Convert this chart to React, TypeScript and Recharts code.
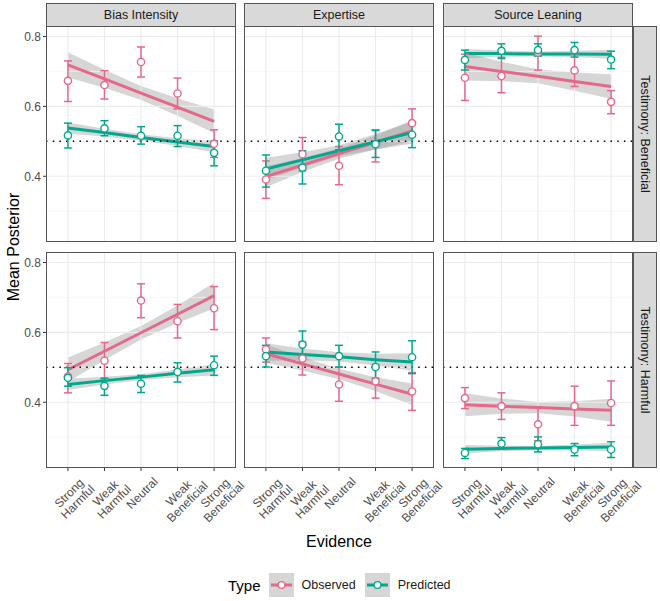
import React from 'react';
import { ComposedChart, Line, Area, XAxis, YAxis, ReferenceLine, ErrorBar } from 'recharts';

const PINK = '#E5688A';
const TEAL = '#00A98E';
const FONT = '"Liberation Sans", Arial, sans-serif';

const EVIDENCE = [
  ['Strong', 'Harmful'],
  ['Weak', 'Harmful'],
  ['Neutral'],
  ['Weak', 'Beneficial'],
  ['Strong', 'Beneficial'],
];
const FACET_COLS = ['Bias Intensity', 'Expertise', 'Source Leaning'];
const FACET_ROWS = ['Testimony: Beneficial', 'Testimony: Harmful'];
const Y_TICKS = [0.4, 0.6, 0.8];
const Y_MINOR = [0.3, 0.5, 0.7];

// points: [mean, lower, upper]; fits: [fit, ci lower, ci upper]
const biasBenObs = [[0.673, 0.614, 0.730], [0.661, 0.621, 0.702], [0.727, 0.684, 0.770], [0.637, 0.593, 0.681], [0.493, 0.454, 0.533]];
const biasBenPred = [[0.517, 0.481, 0.552], [0.537, 0.516, 0.559], [0.516, 0.492, 0.542], [0.516, 0.485, 0.545], [0.467, 0.430, 0.501]];
const biasBenObsFit = [[0.719, 0.683, 0.755], [0.679, 0.653, 0.705], [0.638, 0.618, 0.658], [0.598, 0.573, 0.623], [0.557, 0.523, 0.591]];
const biasBenPredFit = [[0.538, 0.522, 0.554], [0.525, 0.514, 0.536], [0.511, 0.502, 0.520], [0.498, 0.487, 0.509], [0.485, 0.469, 0.501]];

const expBenObs = [[0.391, 0.337, 0.444], [0.463, 0.415, 0.511], [0.430, 0.376, 0.485], [0.493, 0.441, 0.533], [0.552, 0.514, 0.593]];
const expBenPred = [[0.416, 0.369, 0.461], [0.425, 0.378, 0.473], [0.514, 0.476, 0.549], [0.492, 0.454, 0.531], [0.519, 0.482, 0.556]];
const expBenObsFit = [[0.399, 0.369, 0.429], [0.432, 0.412, 0.452], [0.465, 0.450, 0.480], [0.497, 0.477, 0.517], [0.530, 0.500, 0.560]];
const expBenPredFit = [[0.421, 0.389, 0.453], [0.447, 0.425, 0.469], [0.473, 0.457, 0.489], [0.499, 0.477, 0.521], [0.525, 0.493, 0.557]];

const srcBenObs = [[0.682, 0.617, 0.749], [0.687, 0.639, 0.740], [0.754, 0.704, 0.801], [0.703, 0.657, 0.750], [0.613, 0.579, 0.645]];
const srcBenPred = [[0.733, 0.704, 0.761], [0.759, 0.737, 0.779], [0.761, 0.744, 0.779], [0.761, 0.741, 0.783], [0.734, 0.708, 0.758]];
const srcBenObsFit = [[0.714, 0.674, 0.754], [0.700, 0.672, 0.728], [0.686, 0.666, 0.706], [0.671, 0.645, 0.697], [0.657, 0.622, 0.692]];
const srcBenPredFit = [[0.751, 0.738, 0.764], [0.751, 0.742, 0.760], [0.750, 0.743, 0.757], [0.750, 0.741, 0.759], [0.749, 0.736, 0.762]];

const biasHarmObs = [[0.474, 0.427, 0.511], [0.519, 0.466, 0.571], [0.691, 0.642, 0.739], [0.632, 0.584, 0.680], [0.669, 0.608, 0.731]];
const biasHarmPred = [[0.470, 0.446, 0.499], [0.447, 0.420, 0.469], [0.453, 0.428, 0.477], [0.487, 0.458, 0.513], [0.506, 0.477, 0.532]];
const biasHarmObsFit = [[0.493, 0.458, 0.528], [0.546, 0.521, 0.571], [0.599, 0.580, 0.618], [0.652, 0.627, 0.677], [0.705, 0.668, 0.742]];
const biasHarmPredFit = [[0.451, 0.435, 0.467], [0.462, 0.451, 0.473], [0.472, 0.464, 0.480], [0.483, 0.472, 0.494], [0.493, 0.477, 0.509]];

const expHarmObs = [[0.551, 0.515, 0.584], [0.525, 0.478, 0.572], [0.451, 0.403, 0.500], [0.460, 0.412, 0.508], [0.431, 0.377, 0.485]];
const expHarmPred = [[0.532, 0.501, 0.563], [0.565, 0.527, 0.604], [0.532, 0.501, 0.563], [0.501, 0.469, 0.544], [0.529, 0.482, 0.576]];
const expHarmObsFit = [[0.539, 0.513, 0.565], [0.510, 0.491, 0.529], [0.481, 0.466, 0.496], [0.452, 0.432, 0.472], [0.423, 0.392, 0.454]];
const expHarmPredFit = [[0.544, 0.519, 0.569], [0.537, 0.520, 0.554], [0.530, 0.517, 0.543], [0.522, 0.505, 0.539], [0.515, 0.490, 0.540]];

const srcHarmObs = [[0.412, 0.382, 0.442], [0.389, 0.351, 0.427], [0.337, 0.290, 0.387], [0.389, 0.334, 0.446], [0.398, 0.334, 0.461]];
const srcHarmPred = [[0.255, 0.239, 0.268], [0.282, 0.268, 0.299], [0.280, 0.258, 0.301], [0.265, 0.247, 0.282], [0.265, 0.242, 0.287]];
const srcHarmObsFit = [[0.393, 0.360, 0.426], [0.389, 0.367, 0.411], [0.385, 0.369, 0.401], [0.381, 0.359, 0.403], [0.377, 0.344, 0.410]];
const srcHarmPredFit = [[0.266, 0.254, 0.278], [0.268, 0.260, 0.276], [0.269, 0.263, 0.275], [0.271, 0.263, 0.279], [0.272, 0.260, 0.284]];

const buildRows = (obs: number[][], pred: number[][], obsFit: number[][], predFit: number[][]) =>
  obs.map((o, i) => ({
    x: i + 1,
    obs: o[0],
    obsErr: [o[0] - o[1], o[2] - o[0]],
    pred: pred[i][0],
    predErr: [pred[i][0] - pred[i][1], pred[i][2] - pred[i][0]],
    obsFit: obsFit[i][0],
    obsBand: [obsFit[i][1], obsFit[i][2]],
    predFit: predFit[i][0],
    predBand: [predFit[i][1], predFit[i][2]],
  }));

const PANELS = [
  [buildRows(biasBenObs, biasBenPred, biasBenObsFit, biasBenPredFit),
   buildRows(expBenObs, expBenPred, expBenObsFit, expBenPredFit),
   buildRows(srcBenObs, srcBenPred, srcBenObsFit, srcBenPredFit)],
  [buildRows(biasHarmObs, biasHarmPred, biasHarmObsFit, biasHarmPredFit),
   buildRows(expHarmObs, expHarmPred, expHarmObsFit, expHarmPredFit),
   buildRows(srcHarmObs, srcHarmPred, srcHarmObsFit, srcHarmPredFit)],
];

const COL_X = [46, 244, 443];
const ROW_Y = [26, 252];
const PW = 190;
const PH = 216;
const Y_AXIS_W = 40;
const X_AXIS_H = 75;
const RIGHT_PAD = 30; // room for the last rotated tick label

const EvidenceTick = (props: any) => {
  const { x, y, payload } = props;
  const lines = EVIDENCE[payload.value - 1] || [];
  return (
    <g transform={`translate(${x + 4},${y + 23}) rotate(-45)`}>
      <text textAnchor="middle" fill="#4D4D4D" fontSize={12} fontFamily={FONT}>
        {lines.map((l, i) => (
          <tspan key={i} x={0} dy={i === 0 ? 0 : 12.3}>{l}</tspan>
        ))}
      </text>
    </g>
  );
};

const pointDot = (color: string) => (p: any) => (
  <circle key={p.index} cx={p.cx} cy={p.cy} r={3.6} fill="#fff" stroke={color} strokeWidth={1.4} />
);

const Panel = ({ data, row, col }: { data: any[]; row: number; col: number }) => {
  const showY = col === 0;
  const showX = row === 1;
  const padR = showX ? RIGHT_PAD : 0;
  const w = PW + (showY ? Y_AXIS_W : 0) + padR;
  const h = PH + (showX ? X_AXIS_H : 0);
  return (
    <div style={{ position: 'absolute', left: COL_X[col] - (showY ? Y_AXIS_W : 0), top: ROW_Y[row] }}>
      <ComposedChart width={w} height={h} data={data} margin={{ top: 0, right: padR, bottom: 0, left: 0 }}>
        <XAxis
          dataKey="x"
          type="number"
          domain={[0.4, 5.6]}
          ticks={[1, 2, 3, 4, 5]}
          interval={0}
          hide={!showX}
          height={X_AXIS_H}
          axisLine={false}
          tickSize={3}
          tickLine={{ stroke: '#333', strokeWidth: 1 }}
          tick={<EvidenceTick />}
        />
        <YAxis
          type="number"
          domain={[0.212, 0.83]}
          ticks={Y_TICKS}
          allowDataOverflow
          hide={!showY}
          width={Y_AXIS_W}
          axisLine={false}
          tickSize={3}
          tickLine={{ stroke: '#333', strokeWidth: 1 }}
          tickFormatter={(v: number) => v.toFixed(1)}
          tick={{ fill: '#4D4D4D', fontSize: 12, fontFamily: FONT }}
        />
        {Y_MINOR.map((v) => (
          <ReferenceLine key={'m' + v} y={v} stroke="#F3F3F3" strokeWidth={0.7} />
        ))}
        {Y_TICKS.map((v) => (
          <ReferenceLine key={'g' + v} y={v} stroke="#EBEBEB" strokeWidth={1.1} />
        ))}
        {[1, 2, 3, 4, 5].map((v) => (
          <ReferenceLine key={'v' + v} x={v} stroke="#EBEBEB" strokeWidth={1.1} />
        ))}
        <Area dataKey="obsBand" type="linear" stroke="none" fill="#999999" fillOpacity={0.4} dot={false} activeDot={false} isAnimationActive={false} />
        <Area dataKey="predBand" type="linear" stroke="none" fill="#999999" fillOpacity={0.4} dot={false} activeDot={false} isAnimationActive={false} />
        <Line dataKey="obsFit" type="linear" stroke={PINK} strokeWidth={3} dot={false} activeDot={false} isAnimationActive={false} />
        <Line dataKey="predFit" type="linear" stroke={TEAL} strokeWidth={3} dot={false} activeDot={false} isAnimationActive={false} />
        <ReferenceLine y={0.5} stroke="#000" strokeWidth={1.5} strokeDasharray="1.5 5.2" />
        <Line dataKey="obs" stroke="none" strokeWidth={0} dot={pointDot(PINK)} activeDot={false} isAnimationActive={false}>
          <ErrorBar dataKey="obsErr" direction="y" width={4} stroke={PINK} strokeWidth={1.5} />
        </Line>
        <Line dataKey="pred" stroke="none" strokeWidth={0} dot={pointDot(TEAL)} activeDot={false} isAnimationActive={false}>
          <ErrorBar dataKey="predErr" direction="y" width={4} stroke={TEAL} strokeWidth={1.5} />
        </Line>
      </ComposedChart>
    </div>
  );
};

const BORDER = '#555';

const LegendKey = ({ color }: { color: string }) => (
  <svg width={25} height={24} style={{ display: 'block' }}>
    <rect x={0} y={0} width={25} height={24} fill="#D6D6D6" />
    <line x1={2} y1={12} x2={23} y2={12} stroke={color} strokeWidth={3} />
    <circle cx={12.5} cy={12} r={3.4} fill="#fff" stroke={color} strokeWidth={1.3} />
  </svg>
);

export default function App() {
  return (
    <div style={{ position: 'absolute', left: 0, top: 0, width: 660, height: 601, background: '#fff', fontFamily: FONT, overflow: 'hidden' }}>
      {PANELS.map((rowData, r) => rowData.map((d, c) => <Panel key={`${r}-${c}`} data={d} row={r} col={c} />))}

      {/* panel borders */}
      {ROW_Y.map((y) => COL_X.map((x) => (
        <div key={`b${x}-${y}`} style={{ position: 'absolute', left: x, top: y, width: PW, height: PH, border: `1px solid ${BORDER}`, boxSizing: 'border-box', pointerEvents: 'none' }} />
      )))}

      {/* column strips */}
      {FACET_COLS.map((label, c) => (
        <div key={label} style={{ position: 'absolute', left: COL_X[c], top: 3, width: PW, height: 24, background: '#D9D9D9', border: `1px solid ${BORDER}`, boxSizing: 'border-box', display: 'flex', alignItems: 'center', justifyContent: 'center', fontSize: 12.5, color: '#1A1A1A' }}>
          {label}
        </div>
      ))}

      {/* row strips */}
      {FACET_ROWS.map((label, r) => (
        <div key={label} style={{ position: 'absolute', left: 633, top: ROW_Y[r], width: 24, height: PH, background: '#D9D9D9', border: `1px solid ${BORDER}`, boxSizing: 'border-box', display: 'flex', alignItems: 'center', justifyContent: 'center' }}>
          <div style={{ transform: 'rotate(90deg)', whiteSpace: 'nowrap', fontSize: 12.5, color: '#1A1A1A' }}>{label}</div>
        </div>
      ))}

      {/* axis titles */}
      <div style={{ position: 'absolute', left: 14, top: 247, transform: 'translate(-50%, -50%) rotate(-90deg)', whiteSpace: 'nowrap', fontSize: 16, color: '#000' }}>
        Mean Posterior
      </div>
      <div style={{ position: 'absolute', left: 339, top: 542, transform: 'translate(-50%, -50%)', whiteSpace: 'nowrap', fontSize: 16, color: '#000' }}>
        Evidence
      </div>

      {/* legend */}
      <div style={{ position: 'absolute', left: 228, top: 573, height: 24, display: 'flex', alignItems: 'center' }}>
        <span style={{ fontSize: 15, color: '#000', marginRight: 8 }}>Type</span>
        <LegendKey color={PINK} />
        <span style={{ fontSize: 12.5, color: '#1A1A1A', marginLeft: 8, marginRight: 9 }}>Observed</span>
        <LegendKey color={TEAL} />
        <span style={{ fontSize: 12.5, color: '#1A1A1A', marginLeft: 8 }}>Predicted</span>
      </div>
    </div>
  );
}
